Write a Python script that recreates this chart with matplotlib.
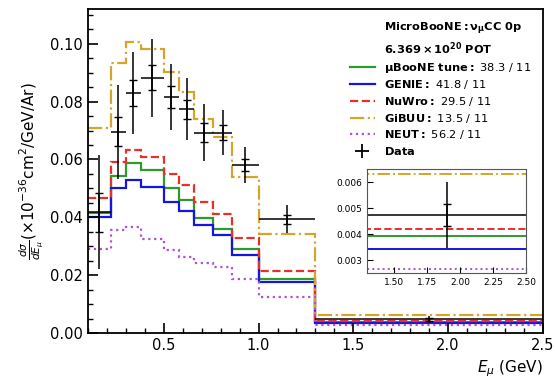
import numpy as np
import matplotlib.pyplot as plt
from matplotlib.lines import Line2D
from matplotlib.ticker import MultipleLocator

# bin edges in muon energy (GeV)
edges = [0.1, 0.22, 0.3, 0.38, 0.5, 0.58, 0.66, 0.76, 0.86, 1.0, 1.3, 2.5]

# predictions (x1e-36 cm^2/GeV/Ar)
uboone_tune = [0.0415, 0.0543, 0.0586, 0.0563, 0.0501, 0.0459, 0.0399, 0.0361, 0.0289, 0.0188, 0.00393]
genie = [0.0400, 0.0501, 0.0530, 0.0505, 0.0453, 0.0421, 0.0373, 0.0338, 0.0271, 0.0175, 0.00343]
nuwro = [0.0465, 0.0591, 0.0632, 0.0608, 0.0549, 0.0511, 0.0453, 0.0411, 0.0329, 0.0215, 0.00421]
gibuu = [0.0710, 0.0933, 0.1006, 0.0983, 0.0902, 0.0833, 0.0741, 0.0678, 0.0539, 0.0341, 0.00632]
neut = [0.0292, 0.0355, 0.0367, 0.0324, 0.0286, 0.0263, 0.0242, 0.0229, 0.0188, 0.0125, 0.00267]

# measured data
data = [0.0417, 0.0695, 0.0830, 0.0882, 0.0816, 0.0773, 0.0693, 0.0692, 0.0580, 0.0393, 0.00473]
err_tot = [0.0197, 0.0164, 0.0141, 0.0134, 0.0114, 0.0107, 0.0097, 0.0078, 0.0063, 0.0048, 0.00126]
err_stat = [0.0067, 0.0050, 0.0045, 0.0043, 0.0037, 0.0034, 0.0033, 0.0026, 0.0020, 0.0015, 0.00043]

chi2 = {"uboone": "38.3 / 11", "genie": "41.8 / 11", "nuwro": "29.5 / 11",
        "gibuu": "13.5 / 11", "neut": "56.2 / 11"}

edges = np.array(edges)
centers = 0.5 * (edges[1:] + edges[:-1])
halfw = 0.5 * (edges[1:] - edges[:-1])

models = [
    (uboone_tune, '#2e9a2e', '-', r"$\mathbf{μBooNE\ tune:}$ " + chi2["uboone"]),
    (genie, '#1515e0', '-', r"$\mathbf{GENIE:}$ " + chi2["genie"]),
    (nuwro, '#e8302a', '--', r"$\mathbf{NuWro:}$ " + chi2["nuwro"]),
    (gibuu, '#d4a52a', '-.', r"$\mathbf{GiBUU:}$ " + chi2["gibuu"]),
    (neut, '#b050d8', ':', r"$\mathbf{NEUT:}$ " + chi2["neut"]),
]


def draw(ax, lw=1.6):
    for vals, c, ls, lab in models:
        ax.stairs(vals, edges, baseline=None, color=c, linestyle=ls, linewidth=lw)
    ax.errorbar(centers, data, xerr=halfw, yerr=err_tot, fmt='none',
                ecolor='k', elinewidth=1.1)
    ax.errorbar(centers, data, yerr=err_stat, fmt='none', ecolor='k',
                elinewidth=1.1, capsize=3, capthick=1.0)


fig = plt.figure(figsize=(5.55, 3.83), dpi=100)
ax = fig.add_axes([0.1586, 0.1305, 0.8194, 0.846])
draw(ax)

ax.set_xlim(0.1, 2.5)
ax.set_ylim(0, 0.112)
ax.xaxis.set_major_locator(MultipleLocator(0.5))
ax.xaxis.set_minor_locator(MultipleLocator(0.1))
ax.yaxis.set_major_locator(MultipleLocator(0.02))
ax.yaxis.set_minor_locator(MultipleLocator(0.005))
ax.tick_params(which='both', direction='in', labelsize=10.5)
ax.tick_params(which='major', length=7, width=1.2)
ax.tick_params(which='minor', length=3.5, width=1.0)
for s in ax.spines.values():
    s.set_linewidth(1.3)
ax.set_xlabel(r"$E_{\mu}$ (GeV)", loc='right', fontsize=11)
ax.set_ylabel(r"$\frac{d\sigma}{dE_{\mu}}$($\times 10^{-36}$cm$^2$/GeV/Ar)", fontsize=11)

handles = [Line2D([], [], linestyle='none'), Line2D([], [], linestyle='none')]
labels = [r"$\mathbf{MicroBooNE: \nu_{\mu}CC\ 0p}$", r"$\mathbf{6.369\times10^{20}\ POT}$"]
for vals, c, ls, lab in models:
    handles.append(Line2D([], [], color=c, linestyle=ls, linewidth=1.6))
    labels.append(lab)
handles.append(Line2D([], [], color='k', marker='+', markersize=10,
                      markeredgewidth=1.3, linestyle='none'))
labels.append(r"$\mathbf{Data}$")
ax.legend(handles, labels, loc='upper right', frameon=False, fontsize=8.2,
          labelspacing=0.32, handlelength=2.2, borderaxespad=0.6)

# inset for the last bin
axin = fig.add_axes([0.6618, 0.2864, 0.286, 0.2723])
draw(axin, lw=1.4)
axin.set_xlim(1.3, 2.5)
axin.set_ylim(0.0025, 0.0065)
axin.xaxis.set_major_locator(MultipleLocator(0.25))
axin.yaxis.set_major_locator(MultipleLocator(0.001))
axin.tick_params(direction='in', labelsize=6.5, length=4)
for s in axin.spines.values():
    s.set_edgecolor('#555555')

fig.savefig("out.png", dpi=100)
